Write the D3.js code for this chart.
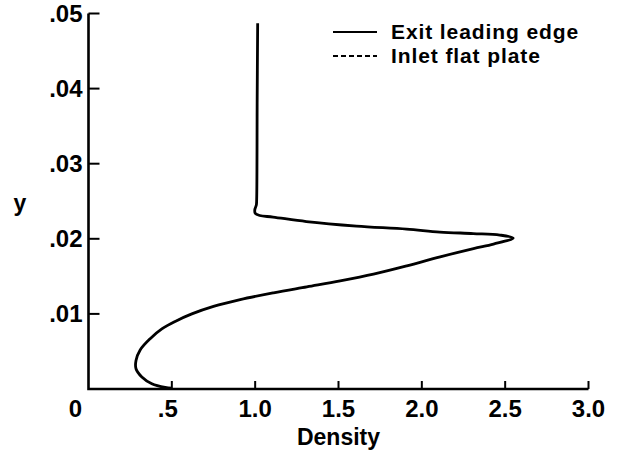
<!DOCTYPE html>
<html><head><meta charset="utf-8">
<script src="https://cdn.jsdelivr.net/npm/d3@7"></script>
<style>
body{margin:0;background:#fff;}
text{font-family:"Liberation Sans",Arial,Helvetica,sans-serif;font-weight:bold;fill:#000;}
</style></head>
<body><svg id="c" width="619" height="455"></svg>
<script>
// Exit leading edge profile: density vs y (ordered along the curve, top to bottom)
const exitDensity = [1.015,1.012,1.009,1.007,0.998,1.0,1.027,1.107,1.307,1.608,1.908,2.108,2.308,2.468,2.548,2.43,2.31,2.11,1.91,1.71,1.51,1.31,1.11,0.91,0.75,0.62,0.52,0.44,0.37,0.31,0.285,0.285,0.32,0.38,0.46,0.50];
const exitY = [0.0487,0.0385,0.0252,0.0245,0.0239,0.0234,0.0231,0.0229,0.0223,0.0217,0.0213,0.0209,0.0207,0.0205,0.0201,0.0193,0.0187,0.0176,0.0164,0.0153,0.0144,0.0136,0.0128,0.0119,0.0110,0.0100,0.0090,0.0080,0.0067,0.0052,0.0038,0.0027,0.0016,0.0007,0.0002,0.0001];
const xTicks = [0,0.5,1.0,1.5,2.0,2.5,3.0];
const xTickLabels = ["0",".5","1.0","1.5","2.0","2.5","3.0"];
const yTicks = [0.01,0.02,0.03,0.04,0.05];
const yTickLabels = [".01",".02",".03",".04",".05"];
const legendLabels = ["Exit leading edge","Inlet flat plate"];

const svg = d3.select("#c");
const x = d3.scaleLinear().domain([0,3]).range([88.5,588.5]);
const y = d3.scaleLinear().domain([0,0.05]).range([389,13.5]);

// axes lines
const ax = svg.append("g").attr("stroke","#000").attr("stroke-width",2.6).attr("fill","none");
ax.append("path").attr("d",`M${x(0)},${y(0.05)}V${y(0)}H${x(3)}`).attr("stroke-linejoin","miter");
yTicks.forEach(t=>{
  ax.append("line").attr("x1",x(0)).attr("x2",x(0)+11).attr("y1",y(t)).attr("y2",y(t)).attr("stroke-width",2);
});
xTicks.filter(t=>t>0).forEach(t=>{
  ax.append("line").attr("x1",x(t)).attr("x2",x(t)).attr("y1",y(0)).attr("y2",y(0)-8).attr("stroke-width",2);
});

// tick labels
yTicks.forEach((t,i)=>{
  svg.append("text").attr("x",x(0)-6).attr("y",y(t)+8.5).attr("text-anchor","end")
    .attr("font-size",24).text(yTickLabels[i]);
});
xTicks.forEach((t,i)=>{
  svg.append("text").attr("x",x(t)+(t===0?-13:0)-(t===0.5?4:0)).attr("y",416.5).attr("text-anchor","middle")
    .attr("font-size",24).text(xTickLabels[i]);
});
svg.append("text").attr("x",x(1.5)).attr("y",445).attr("text-anchor","middle").attr("font-size",23).text("Density");
svg.append("text").attr("x",20).attr("y",211).attr("text-anchor","middle").attr("font-size",23).text("y");

// curve
const pts = exitDensity.map((d,i)=>[d,exitY[i]]);
const line = d3.line().x(d=>x(d[0])).y(d=>y(d[1])).curve(d3.curveCatmullRom.alpha(0.5));
svg.append("path").datum(pts).attr("d",line).attr("fill","none").attr("stroke","#000").attr("stroke-width",2.8);

// legend
const lg = svg.append("g");
lg.append("line").attr("x1",333).attr("x2",377).attr("y1",32).attr("y2",32).attr("stroke","#000").attr("stroke-width",2);
lg.append("line").attr("x1",333).attr("x2",377).attr("y1",56).attr("y2",56).attr("stroke","#000").attr("stroke-width",2).attr("stroke-dasharray","5,3");
lg.append("text").attr("x",391).attr("y",39).attr("font-size",21).attr("letter-spacing",0.9).text(legendLabels[0]);
lg.append("text").attr("x",391).attr("y",63).attr("font-size",21).attr("letter-spacing",0.9).text(legendLabels[1]);
</script></body></html>
